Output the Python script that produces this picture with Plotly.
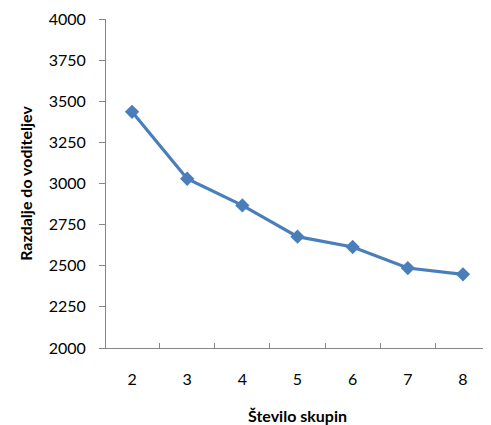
import plotly.graph_objects as go

categories = ["2", "3", "4", "5", "6", "7", "8"]
values = [3436, 3029, 2867, 2677, 2614, 2486, 2448]
y_ticks = [2000, 2250, 2500, 2750, 3000, 3250, 3500, 3750, 4000]

x_title = "Število skupin"
y_title = "Razdalje do voditeljev"

fig = go.Figure()
fig.add_trace(go.Scatter(
    x=categories, y=values, mode="lines+markers",
    line=dict(color="#4A7EBB", width=3.2),
    marker=dict(symbol="diamond", size=11, color="#4A7EBB"),
    showlegend=False,
))

axis_color = "#868686"
font_fam = "Lato"

fig.update_layout(
    width=483, height=417,
    margin=dict(l=98, r=2, t=11, b=77),
    paper_bgcolor="white", plot_bgcolor="white",
    font=dict(family=font_fam, size=16, color="black"),
    xaxis=dict(
        type="category",
        tickson="boundaries",
        ticks="inside", ticklen=5, tickcolor=axis_color,
        showline=True, linecolor=axis_color, linewidth=1,
        showgrid=False, zeroline=False,
        ticklabelstandoff=17,
        title=dict(text="<b>" + x_title + "</b>", standoff=24,
                   font=dict(size=16)),
    ),
    yaxis=dict(
        range=[2000, 4000],
        tickvals=y_ticks,
        ticks="outside", ticklen=6, tickcolor=axis_color,
        showline=True, linecolor=axis_color, linewidth=1,
        showgrid=False, zeroline=False,
        ticklabelstandoff=10,
        title=dict(text="<b>" + y_title + "</b>", standoff=12,
                   font=dict(size=16)),
    ),
)

fig.write_html("out.html")
